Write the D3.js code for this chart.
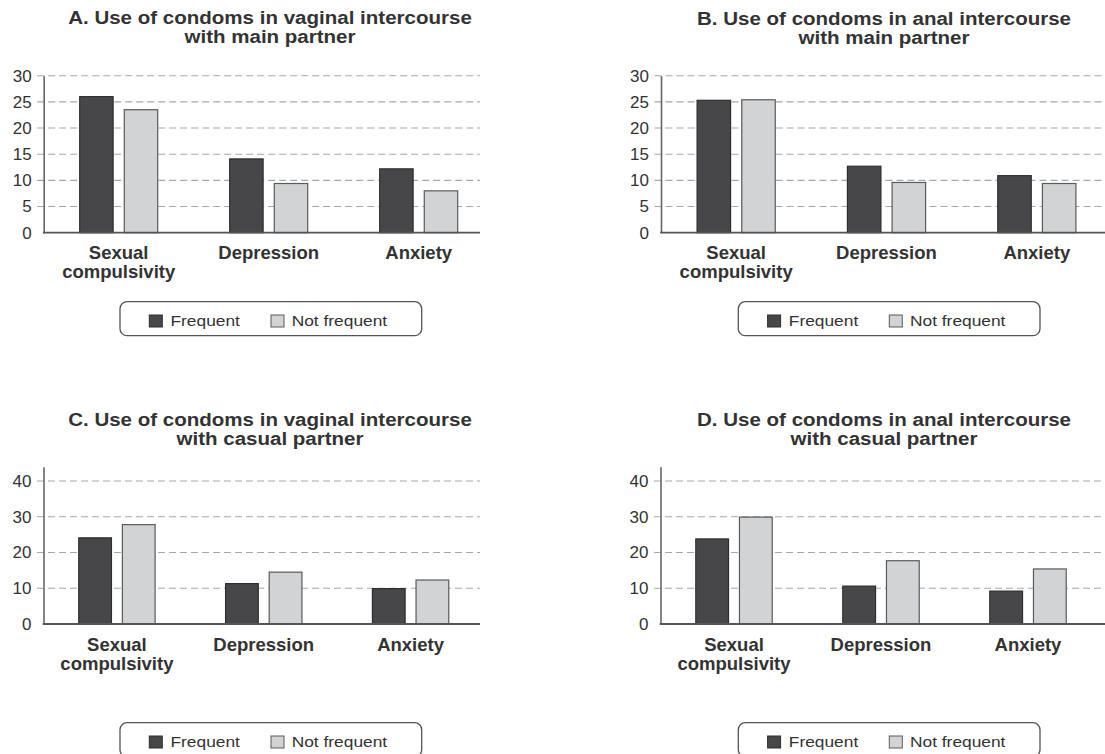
<!DOCTYPE html>
<html lang="en">
<head>
    <meta charset="UTF-8">
    <title>Condom use panels</title>
    <script src="https://d3js.org/d3.v7.min.js"></script>
    <style>
        body { margin: 0; background: #fff; }
        svg { display: block; font-family: "Liberation Sans", Arial, Helvetica, sans-serif; }
        .tick text { font-size: 17px; fill: #333; }
        .domain { stroke: #666; stroke-width: 1.6px; }
        .cat { font-size: 18.5px; font-weight: bold; fill: #333; }
        .title { font-size: 18.5px; font-weight: bold; fill: #333; }
        .leg { font-size: 15.5px; fill: #333; }
    </style>
</head>
<body>
<svg width="1105" height="754"></svg>

<script>
    // categories and series
    const categories = ["Sexual\ncompulsivity", "Depression", "Anxiety"];
    const series = ["Frequent", "Not frequent"];

    // panel titles
    const titles = [
        ["A. Use of condoms in vaginal intercourse", "with main partner"],
        ["B. Use of condoms in anal intercourse", "with main partner"],
        ["C. Use of condoms in vaginal intercourse", "with casual partner"],
        ["D. Use of condoms in anal intercourse", "with casual partner"]
    ];

    // values
    const frequentA = [26.0, 14.1, 12.2];
    const notFrequentA = [23.5, 9.4, 8.0];
    const frequentB = [25.3, 12.7, 10.9];
    const notFrequentB = [25.4, 9.6, 9.4];
    const frequentC = [24.1, 11.3, 9.9];
    const notFrequentC = [27.8, 14.5, 12.3];
    const frequentD = [23.8, 10.6, 9.2];
    const notFrequentD = [29.9, 17.7, 15.4];

    // y axis ticks
    const ticksTop = [0, 5, 10, 15, 20, 25, 30];
    const ticksBottom = [0, 10, 20, 30, 40];

    const colors = {"Frequent": "#474749", "Not frequent": "#d2d3d5"};
    const strokes = {"Frequent": "#2f2f2f", "Not frequent": "#5a5a5a"};

    // layout of each panel (pixels)
    const panels = [
        {title: titles[0], freq: frequentA, notf: notFrequentA, ticks: ticksTop, yMax: 30,
            x0: 43.7, x1: 493.7, right: 480, yBot: 232.7, yTop: 75.7, cx: 270, tY: 24, legX: 120, legY: 301.7},
        {title: titles[1], freq: frequentB, notf: notFrequentB, ticks: ticksTop, yMax: 30,
            x0: 661, x1: 1112, right: 1105, yBot: 232.7, yTop: 75.7, cx: 884, tY: 25, legX: 738.3, legY: 301.7},
        {title: titles[2], freq: frequentC, notf: notFrequentC, ticks: ticksBottom, yMax: 44,
            x0: 43.5, x1: 484, right: 480, yBot: 624, yTop: 466.7, cx: 270, tY: 425.5, legX: 120, legY: 722.7},
        {title: titles[3], freq: frequentD, notf: notFrequentD, ticks: ticksBottom, yMax: 44,
            x0: 660.5, x1: 1101.5, right: 1105, yBot: 624, yTop: 466.7, cx: 884, tY: 425.5, legX: 738.3, legY: 722.7}
    ];

    const svg = d3.select("svg");

    function drawPanel(p) {
        const g = svg.append("g");

        const y = d3.scaleLinear().domain([0, p.yMax]).range([p.yBot, p.yTop]);
        const xg = d3.scaleBand().domain(categories).range([p.x0, p.x1])
            .paddingInner(0.48).paddingOuter(0.24);
        const xs = d3.scaleBand().domain(series).range([0, xg.bandwidth()]).paddingInner(0.25);

        // dashed grid, starting a little left of the axis as tick marks
        g.selectAll(".grid").data(p.ticks.filter(t => t > 0)).join("line")
            .attr("x1", p.x0 - 6.5).attr("x2", p.right)
            .attr("y1", d => y(d)).attr("y2", d => y(d))
            .attr("stroke", "#a8a8a8").attr("stroke-width", 1.1)
            .attr("stroke-dasharray", "7,4");

        // bars
        const rows = categories.map((c, i) => ({cat: c, vals: [p.freq[i], p.notf[i]]}));
        g.selectAll(".grp").data(rows).join("g")
            .attr("transform", d => `translate(${xg(d.cat)},0)`)
            .selectAll("rect").data(d => d.vals.map((v, j) => ({s: series[j], v: v})))
            .join("rect")
            .attr("x", d => xs(d.s))
            .attr("width", xs.bandwidth())
            .attr("y", d => y(d.v))
            .attr("height", d => y(0) - y(d.v))
            .attr("fill", d => colors[d.s])
            .attr("stroke", d => strokes[d.s])
            .attr("stroke-width", 1.2);

        // y axis
        g.append("g").attr("transform", `translate(${p.x0},0)`)
            .call(d3.axisLeft(y).tickValues(p.ticks).tickSize(0).tickSizeOuter(0).tickPadding(12))
            .call(a => a.selectAll(".tick line").remove());

        // baseline
        g.append("line").attr("x1", p.x0 - 0.8).attr("x2", p.right)
            .attr("y1", y(0)).attr("y2", y(0))
            .attr("stroke", "#555").attr("stroke-width", 1.8);

        // category labels
        categories.forEach(c => {
            const t = g.append("text").attr("class", "cat").attr("text-anchor", "middle");
            c.split("\n").forEach((ln, k) => {
                t.append("tspan").attr("x", xg(c) + xg.bandwidth() / 2)
                    .attr("y", y(0) + 26.5 + k * 19).text(ln);
            });
        });

        // title
        p.title.forEach((ln, k) => {
            g.append("text").attr("class", "title").attr("text-anchor", "middle")
                .attr("transform", `translate(${p.cx},${p.tY + k * 19.3}) scale(1.11,1)`)
                .text(ln);
        });

        // legend
        const lg = g.append("g").attr("transform", `translate(${p.legX},${p.legY})`);
        lg.append("rect").attr("width", 301.7).attr("height", 34).attr("rx", 7)
            .attr("fill", "none").attr("stroke", "#555").attr("stroke-width", 1.3);
        const legPos = [[29.3, 50.5], [151, 171.7]];
        series.forEach((s, j) => {
            lg.append("rect").attr("x", legPos[j][0]).attr("y", 13.3)
                .attr("width", 13).attr("height", 12)
                .attr("fill", colors[s]).attr("stroke", strokes[s]).attr("stroke-width", 1);
            lg.append("text").attr("class", "leg")
                .attr("transform", `translate(${legPos[j][1]},24.5) scale(1.12,1)`)
                .text(s);
        });
    }

    panels.forEach(drawPanel);
</script>
</body>
</html>
